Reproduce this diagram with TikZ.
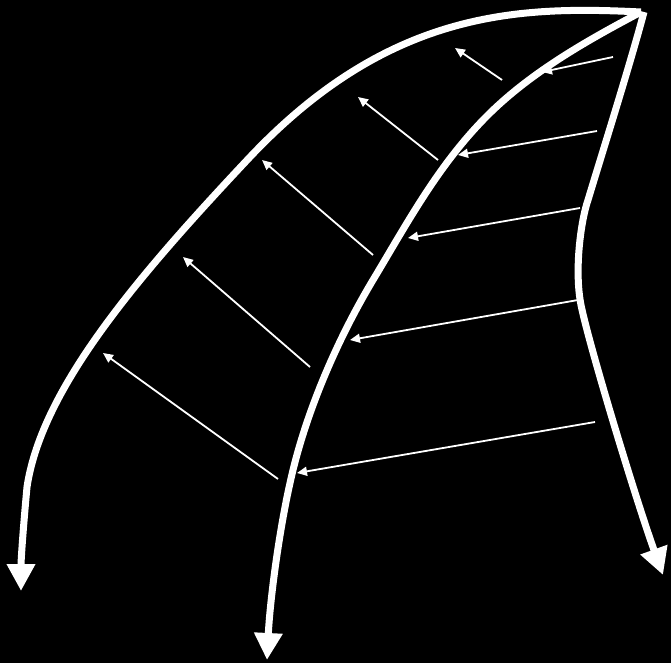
\documentclass[tikz,border=0pt]{standalone}
\usetikzlibrary{arrows.meta}
\begin{document}
\begin{tikzpicture}[x=1pt,y=-1pt,
  vein/.style={white,line width=7pt,-{Triangle[width=27pt,length=27pt]}},
  flow/.style={white,line width=1.8pt,-{Triangle[width=9pt,length=10pt]}}]
\fill[black] (0,0) rectangle (671,663);
\useasboundingbox (0,0) rectangle (671,663);
\coordinate (apex) at (641,12);
\coordinate (apexr) at (644,12);
\coordinate (endl) at (21,591);
\coordinate (endm) at (267,660);
\coordinate (endr) at (663,575);
% thick curves
\draw[vein] (apex) .. controls (520,6) and (390,9) .. (250,157)
  .. controls (140,274) and (42,387) .. (27,487)
  .. controls (23,530) and (21,560) .. (endl);
\draw[vein] (apex) .. controls (588,40) and (533,71) .. (490,113)
  .. controls (440,162) and (409,220) .. (373,280)
  .. controls (337,340) and (305,414) .. (290,483)
  .. controls (279,532) and (270,600) .. (endm);
\draw[vein] (apexr) .. controls (630,65) and (600,160) .. (588,200)
  .. controls (581,220) and (574,270) .. (581,305)
  .. controls (589,345) and (636,500) .. (endr);
% thin arrows, right group
\coordinate (r1a) at (613,57);  \coordinate (r1b) at (542,72);
\coordinate (r2a) at (597,131); \coordinate (r2b) at (458,155);
\coordinate (r3a) at (580,208); \coordinate (r3b) at (408,238);
\coordinate (r4a) at (578,300); \coordinate (r4b) at (350,340);
\coordinate (r5a) at (595,422); \coordinate (r5b) at (297,473);
\draw[flow] (r1a) -- (r1b);
\draw[flow] (r2a) -- (r2b);
\draw[flow] (r3a) -- (r3b);
\draw[flow] (r4a) -- (r4b);
\draw[flow] (r5a) -- (r5b);
% thin arrows, left group
\coordinate (l1a) at (502,80);  \coordinate (l1b) at (455,48);
\coordinate (l2a) at (438,160); \coordinate (l2b) at (358,97);
\coordinate (l3a) at (373,255); \coordinate (l3b) at (262,160);
\coordinate (l4a) at (310,367); \coordinate (l4b) at (183,257);
\coordinate (l5a) at (278,479); \coordinate (l5b) at (103,353);
\draw[flow] (l1a) -- (l1b);
\draw[flow] (l2a) -- (l2b);
\draw[flow] (l3a) -- (l3b);
\draw[flow] (l4a) -- (l4b);
\draw[flow] (l5a) -- (l5b);
\end{tikzpicture}
\end{document}
